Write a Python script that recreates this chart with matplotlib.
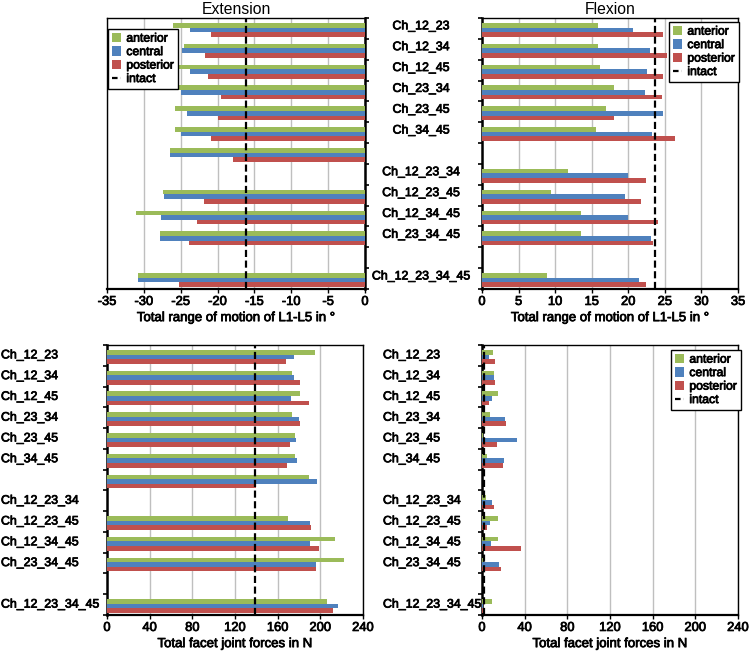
import matplotlib
matplotlib.use("Agg")
import matplotlib.pyplot as plt
from matplotlib.patches import Patch
from matplotlib.lines import Line2D
import matplotlib.transforms as mtransforms
import matplotlib.patheffects as pe

plt.rcParams['font.family'] = ['Liberation Sans', 'DejaVu Sans']

# ---------------- data ----------------
categories = ["Ch_12_23", "Ch_12_34", "Ch_12_45", "Ch_23_34", "Ch_23_45", "Ch_34_45",
              "Ch_12_23_34", "Ch_12_23_45", "Ch_12_34_45", "Ch_23_34_45", "Ch_12_23_34_45"]
# slot (row) of each group; left panels are shifted by one slot for the first 4-group
label_rows = [0, 1, 2, 3, 4, 5, 7, 8, 9, 10, 12]
left_rows = [0, 1, 2, 3, 4, 5, 6, 8, 9, 10, 12]
right_rows = [0, 1, 2, 3, 4, 5, 7, 8, 9, 10, 12]
n_slots = 13

series_names = ["anterior", "central", "posterior"]
intact_name = "intact"

# Extension range of motion (deg)
ext_rom_anterior = [-26.1, -24.6, -25.6, -25.3, -25.8, -25.8, -26.5, -27.4, -31.1, -27.8, -30.8]
ext_rom_central = [-23.7, -24.8, -23.7, -25.0, -24.1, -25.0, -26.4, -27.2, -27.7, -27.8, -30.8]
ext_rom_posterior = [-20.9, -21.7, -21.3, -19.6, -19.9, -20.9, -17.9, -21.9, -22.8, -23.9, -25.3]
ext_rom_intact = -16.1

# Flexion range of motion (deg)
flex_rom_anterior = [15.9, 15.8, 16.2, 18.0, 17.0, 15.6, 11.8, 9.4, 13.6, 13.6, 8.9]
flex_rom_central = [20.6, 23.0, 22.5, 22.3, 24.8, 23.2, 20.0, 19.5, 19.9, 23.1, 21.4]
flex_rom_posterior = [24.8, 25.3, 24.7, 24.6, 18.0, 26.4, 22.4, 21.7, 24.1, 23.4, 22.4]
flex_rom_intact = 23.7

# Extension facet joint forces (N)
ext_ff_anterior = [195.3, 173.5, 180.9, 173.2, 176.6, 176.6, 189.7, 169.5, 213.7, 222.4, 205.9]
ext_ff_central = [175.7, 175.7, 172.9, 180.4, 177.3, 178.2, 196.6, 190.3, 190.3, 195.6, 216.5]
ext_ff_posterior = [167.9, 180.9, 189.7, 180.9, 172.0, 169.2, 139.9, 190.9, 198.7, 195.6, 211.8]
ext_ff_intact = 138.3

# Flexion facet joint forces (N)
flex_ff_anterior = [10.0, 11.7, 15.4, 7.4, 1.0, 5.0, 4.0, 15.0, 15.0, 1.0, 9.2]
flex_ff_central = [6.3, 11.0, 9.5, 21.6, 32.7, 20.7, 9.6, 7.7, 8.3, 16.0, 0.5]
flex_ff_posterior = [12.3, 12.3, 6.8, 22.5, 14.2, 19.8, 11.5, 4.9, 36.1, 17.9, 0.5]
flex_ff_intact = 2.0

rom_ticks_ext = [-35, -30, -25, -20, -15, -10, -5, 0]
rom_ticks_flex = [0, 5, 10, 15, 20, 25, 30, 35]
ff_ticks = [0, 40, 80, 120, 160, 200, 240]

colors = ["#9BBB59", "#4F81BD", "#C0504D"]

# ---------------- figure ----------------
W, H = 750, 651
fig = plt.figure(figsize=(W / 100, H / 100), dpi=100)


def ax_at(x0, y0, x1, y1):
    return fig.add_axes([x0 / W, 1 - y1 / H, (x1 - x0) / W, (y1 - y0) / H])


ax_tl = ax_at(107, 18, 365, 289)
ax_tr = ax_at(482, 18, 738, 289)
ax_bl = ax_at(107, 345, 363, 615)
ax_br = ax_at(482, 345, 738, 615)

bh = 0.222
FS = 9.3
CFS = 8.9
FW = 'normal'
HEAVY = [pe.withStroke(linewidth=0.55, foreground='black')]


def draw(ax, rows, vals, intact, xlim, ticks, xlabel, yaxis_right):
    for k, (v, c) in enumerate(zip(vals, colors)):
        ys = [r + 0.07 + (k - 1) * bh for r in rows]
        ax.barh(ys, v, height=bh, color=c, edgecolor='none', zorder=3)
    ax.axvline(intact, color='black', lw=1.6, ls=(0, (3.2, 1.6)), zorder=5)
    ax.set_xlim(*xlim)
    ax.set_ylim(n_slots - 0.5, -0.5)
    ax.set_xticks(ticks)
    ax.set_xticklabels([str(t) for t in ticks], fontsize=FS, fontweight=FW)
    for t in ax.get_xticklabels():
        t.set_path_effects(HEAVY)
    ax.grid(axis='x', color='#BFBFBF', lw=1.0, zorder=0)
    ax.set_axisbelow(True)
    ax.set_yticks([i - 0.5 for i in range(n_slots + 1)])
    ax.set_yticklabels([])
    ax.tick_params(axis='y', length=3, width=1.2, direction='out',
                   left=not yaxis_right, right=yaxis_right)
    ax.tick_params(axis='x', length=3, width=1.0, direction='out', pad=2)
    for s in ax.spines.values():
        s.set_color('black')
        s.set_linewidth(1.0)
    ax.spines['bottom'].set_linewidth(1.6)
    if yaxis_right:
        ax.spines['right'].set_linewidth(1.8)
    else:
        ax.spines['left'].set_linewidth(1.8)
    lab = ax.set_xlabel(xlabel, fontsize=FS + 0.2, fontweight=FW, labelpad=3)
    lab.set_path_effects(HEAVY)


draw(ax_tl, left_rows, [ext_rom_anterior, ext_rom_central, ext_rom_posterior], ext_rom_intact,
     (-35, 0), rom_ticks_ext, "Total range of motion of L1-L5 in °", True)
draw(ax_tr, right_rows, [flex_rom_anterior, flex_rom_central, flex_rom_posterior], flex_rom_intact,
     (0, 35), rom_ticks_flex, "Total range of motion of L1-L5 in °", False)
draw(ax_bl, left_rows, [ext_ff_anterior, ext_ff_central, ext_ff_posterior], ext_ff_intact,
     (0, 240), ff_ticks, "Total facet joint forces in N", False)
draw(ax_br, right_rows, [flex_ff_anterior, flex_ff_central, flex_ff_posterior], flex_ff_intact,
     (0, 240), ff_ticks, "Total facet joint forces in N", False)

ax_tl.set_title("Extension", fontsize=11.3, pad=3)
ax_tr.set_title("Flexion", fontsize=11.3, pad=3)

# category labels
tr_tr = mtransforms.blended_transform_factory(fig.transFigure, ax_tr.transData)
for lab, r in zip(categories, label_rows):
    ax_tr.text(421 / W, r - 0.1, lab, transform=tr_tr, ha='center', va='center',
               fontsize=CFS, fontweight=FW, clip_on=False, path_effects=HEAVY)
tr_bl = mtransforms.blended_transform_factory(fig.transFigure, ax_bl.transData)
for lab, r in zip(categories, label_rows):
    ax_bl.text(1 / W, r, lab, transform=tr_bl, ha='left', va='center',
               fontsize=CFS, fontweight=FW, clip_on=False, path_effects=HEAVY)
tr_br = mtransforms.blended_transform_factory(fig.transFigure, ax_br.transData)
for lab, r in zip(categories, label_rows):
    ax_br.text(383 / W, r, lab, transform=tr_br, ha='left', va='center',
               fontsize=CFS, fontweight=FW, clip_on=False, path_effects=HEAVY)

# legends
handles = [Patch(facecolor=c, edgecolor='none') for c in colors] + \
          [Line2D([0], [0], color='black', lw=1.6, ls=(0, (2.5, 1.5)))]
labels = series_names + [intact_name]


def add_legend(ax, x0, y0):
    leg = ax.legend(handles, labels, loc='upper left',
                    bbox_to_anchor=(x0 / W, 1 - y0 / H), bbox_transform=fig.transFigure,
                    prop={'size': 8.8, 'weight': FW}, frameon=True, fancybox=False,
                    edgecolor='black', framealpha=1, handlelength=0.8, handleheight=0.8,
                    handletextpad=0.4, labelspacing=0.12, borderpad=0.3, borderaxespad=0)
    leg.get_frame().set_linewidth(1.0)
    leg.set_zorder(10)
    for t in leg.get_texts():
        t.set_path_effects(HEAVY)


add_legend(ax_tl, 108, 29)
add_legend(ax_tr, 669, 22)
add_legend(ax_br, 671, 350)

fig.savefig("out.png", dpi=100)
